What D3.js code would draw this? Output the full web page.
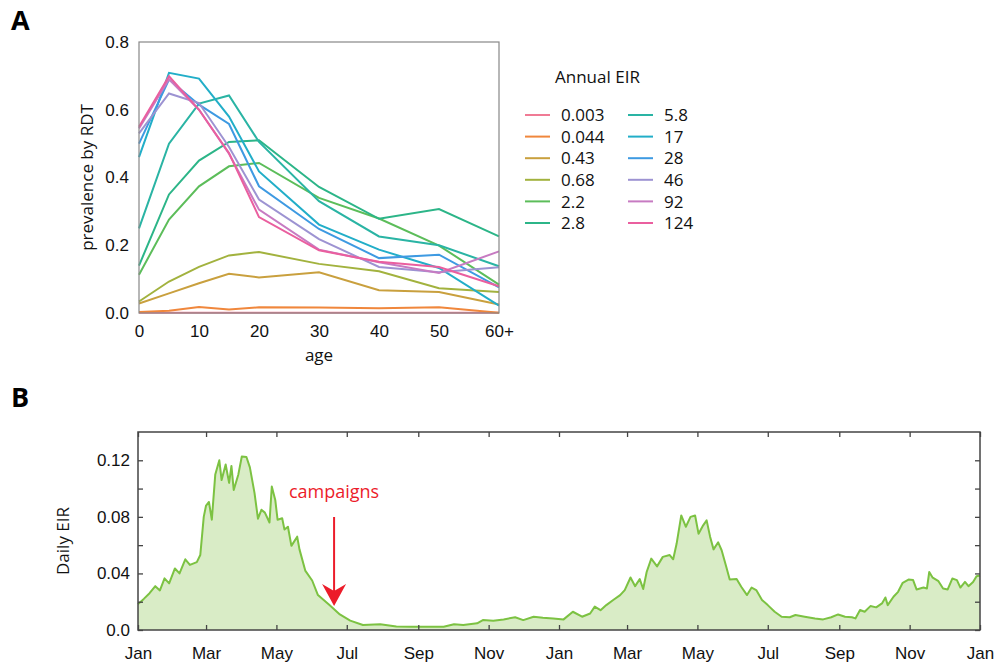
<!DOCTYPE html>
<html>
<head>
<meta charset="utf-8">
<script src="https://cdn.jsdelivr.net/npm/d3@7"></script>
<style>
  body { margin: 0; background: #fff; }
  svg { display: block; font-family: "Open Sans", "Noto Sans", sans-serif; }
  .tick text { font-size: 17px; fill: #111; }
</style>
</head>
<body>
<svg id="chart" width="997" height="668"></svg>
<script>
// Panel A: prevalence by age for each annual EIR
const ages = [0, 5, 10, 15, 20, 30, 40, 50, 60];
const ageTicks = [0, 10, 20, 30, 40, 50, 60];
const prevTicks = [0, 0.2, 0.4, 0.6, 0.8];

const eirLabels = ["0.003", "0.044", "0.43", "0.68", "2.2", "2.8", "5.8", "17", "28", "46", "92", "124"];
const eirColors = ["#f07b95", "#f0873c", "#c9a03e", "#a2b23e", "#5cbd5a", "#2cb588", "#2ab4a4", "#22aec8", "#3e9ae2", "#9d93d2", "#c77bc2", "#ea5f9f"];

const prev0003 = [0.001, 0.001, 0.001, 0.001, 0.001, 0.001, 0.001, 0.001, 0.001];
const prev0044 = [0.003, 0.007, 0.018, 0.010, 0.017, 0.016, 0.014, 0.017, 0.001];
const prev043 = [0.028, 0.058, 0.088, 0.116, 0.105, 0.120, 0.067, 0.062, 0.025];
const prev068 = [0.034, 0.093, 0.136, 0.170, 0.180, 0.145, 0.123, 0.073, 0.062];
const prev22 = [0.113, 0.276, 0.374, 0.433, 0.443, 0.340, 0.279, 0.199, 0.084];
const prev28 = [0.140, 0.350, 0.450, 0.505, 0.510, 0.372, 0.278, 0.307, 0.226];
const prev58 = [0.250, 0.500, 0.618, 0.642, 0.505, 0.330, 0.226, 0.200, 0.138];
const prev17 = [0.460, 0.709, 0.692, 0.580, 0.418, 0.261, 0.187, 0.133, 0.022];
const prev28b = [0.500, 0.689, 0.615, 0.558, 0.374, 0.248, 0.162, 0.172, 0.076];
const prev46 = [0.530, 0.648, 0.620, 0.490, 0.335, 0.218, 0.136, 0.120, 0.135];
const prev92 = [0.545, 0.690, 0.600, 0.470, 0.305, 0.187, 0.150, 0.118, 0.182];
const prev124 = [0.550, 0.699, 0.600, 0.472, 0.283, 0.185, 0.151, 0.136, 0.079];
const prevSeries = [prev0003, prev0044, prev043, prev068, prev22, prev28, prev58, prev17, prev28b, prev46, prev92, prev124];

// Panel B: daily EIR over two years (day index from 1 Jan)
const eirDays = [0, 5, 10, 15, 19, 23, 27, 32, 36, 41, 45, 51, 54, 57, 59, 61.5, 64, 67, 70.5, 72.5,
  76, 79, 81, 83, 87, 90, 94, 97, 101, 104, 107, 110, 114, 116, 119, 121, 125, 127, 130, 133,
  138, 140, 145, 151, 156, 166, 175, 184, 195, 210, 224, 236, 250, 265, 274, 282, 294, 299, 308, 317,
  327, 334, 343, 351, 360, 369, 377, 385, 392, 396, 401, 406, 412, 418, 422, 427, 431, 435, 438, 441,
  445, 450, 455, 461, 464, 467, 471, 475, 479, 483, 486, 490, 493, 496, 499, 503, 506, 510, 513, 519,
  523, 528, 532, 536, 541, 546, 552, 558, 565, 570, 578, 587, 594, 601, 607, 613, 619, 622, 626, 630,
  635, 640, 645, 648, 650, 655, 659, 663, 668, 672, 675, 681, 684, 686, 689, 694, 698, 702, 706, 710,
  713, 717, 720, 724, 727, 730];
const eirValues = [0.0183, 0.022, 0.026, 0.031, 0.028, 0.0365, 0.033, 0.0435, 0.040, 0.050, 0.046, 0.048, 0.053, 0.080, 0.088, 0.0905, 0.078, 0.110, 0.120, 0.106,
  0.117, 0.104, 0.116, 0.099, 0.110, 0.1227, 0.1223, 0.115, 0.097, 0.0787, 0.085, 0.083, 0.076, 0.1015, 0.092, 0.078, 0.079, 0.071, 0.073, 0.0595,
  0.066, 0.057, 0.042, 0.035, 0.0247, 0.0176, 0.011, 0.0066, 0.0035, 0.004, 0.0025, 0.0023, 0.0023, 0.0023, 0.004, 0.0035, 0.0047, 0.007, 0.0066, 0.0075,
  0.009, 0.007, 0.0094, 0.0087, 0.0082, 0.0075, 0.0129, 0.0094, 0.0117, 0.0165, 0.014, 0.0176, 0.0212, 0.0247, 0.0282, 0.0371, 0.031, 0.036, 0.029, 0.041,
  0.0505, 0.045, 0.0517, 0.053, 0.050, 0.0611, 0.081, 0.073, 0.080, 0.081, 0.068, 0.074, 0.0775, 0.066, 0.057, 0.062, 0.0564, 0.0447, 0.0357, 0.036,
  0.0306, 0.0247, 0.030, 0.0282, 0.0212, 0.0176, 0.0129, 0.0094, 0.009, 0.0106, 0.0094, 0.0082, 0.0075, 0.009, 0.011, 0.0094, 0.009, 0.0082, 0.0141, 0.0129,
  0.0169, 0.016, 0.0188, 0.023, 0.0176, 0.0235, 0.027, 0.0334, 0.0357, 0.0353, 0.0287, 0.030, 0.0294, 0.041, 0.037, 0.0345, 0.0294, 0.0287, 0.0364, 0.0353,
  0.030, 0.034, 0.031, 0.034, 0.038, 0.0385];
const eirTicks = [0, 0.04, 0.08, 0.12];
const eirMinorTicks = [0, 0.02, 0.04, 0.06, 0.08, 0.10, 0.12];
const campaignDay = 170;
const campaignValue = 0.017;

const svg = d3.select("#chart");
const startDate = new Date(2001, 0, 1);
const endDate = new Date(2003, 0, 1);

// ---------- Panel A ----------
const xA = d3.scaleLinear().domain([0, 60]).range([139, 499]);
const yA = d3.scaleLinear().domain([0, 0.8]).range([313, 42]);

svg.append("text").attr("x", 11).attr("y", 30)
  .attr("font-size", 27).attr("font-weight", "bold").text("A");

const gA = svg.append("g");

gA.append("g")
  .attr("transform", "translate(" + xA.range()[0] + ",0)")
  .call(d3.axisLeft(yA).tickValues(prevTicks).tickSize(0).tickPadding(10).tickFormat(d3.format(".1f")))
  .call(g => g.select(".domain").remove());

gA.append("g")
  .attr("transform", "translate(0," + yA.range()[0] + ")")
  .call(d3.axisBottom(xA).tickValues(ageTicks).tickSize(0).tickPadding(12)
    .tickFormat(d => d === 60 ? "60+" : d))
  .call(g => g.select(".domain").remove());

const lineA = d3.line().x((d, i) => xA(ages[i])).y(d => yA(d));
gA.selectAll("path.series")
  .data(prevSeries)
  .join("path")
  .attr("class", "series")
  .attr("d", lineA)
  .attr("fill", "none")
  .attr("stroke", (d, i) => eirColors[i])
  .attr("stroke-width", 2);

gA.append("rect")
  .attr("x", xA.range()[0]).attr("y", yA.range()[1])
  .attr("width", xA.range()[1] - xA.range()[0])
  .attr("height", yA.range()[0] - yA.range()[1])
  .attr("fill", "none").attr("stroke", "#888").attr("stroke-width", 1.2);

gA.append("text")
  .attr("transform", "translate(93," + (yA.range()[0] + yA.range()[1]) / 2 + ") rotate(-90)")
  .attr("text-anchor", "middle").attr("font-size", 17).attr("fill", "#111").text("prevalence by RDT");

gA.append("text")
  .attr("x", (xA.range()[0] + xA.range()[1]) / 2).attr("y", 361)
  .attr("text-anchor", "middle").attr("font-size", 17).attr("fill", "#111").text("age");

// Legend
const legend = svg.append("g");
legend.append("text").attr("x", 555).attr("y", 83)
  .attr("font-size", 17).attr("font-weight", 500).attr("fill", "#111").text("Annual EIR");

const items = legend.selectAll("g.item")
  .data(eirLabels)
  .join("g")
  .attr("class", "item")
  .attr("transform", (d, i) => "translate(" + (i < 6 ? 525 : 628) + "," + (115 + (i % 6) * 21.6) + ")");
items.append("line")
  .attr("x1", 0).attr("x2", 25)
  .attr("stroke", (d, i) => eirColors[i]).attr("stroke-width", 2);
items.append("text")
  .attr("x", 36).attr("dy", "0.36em")
  .attr("font-size", 17).attr("fill", "#111").text(d => d);

// ---------- Panel B ----------
const xB = d3.scaleTime().domain([startDate, endDate]).range([138, 980]);
const yB = d3.scaleLinear().domain([0, 0.14]).range([630, 432]);

svg.append("text").attr("x", 11).attr("y", 407)
  .attr("font-size", 27).attr("font-weight", "bold").text("B");

const gB = svg.append("g");
const eirData = eirDays.map((d, i) => ({ date: d3.timeHour.offset(startDate, d * 24), value: eirValues[i] }));

gB.append("path")
  .datum(eirData)
  .attr("d", d3.area().x(d => xB(d.date)).y0(yB(0)).y1(d => yB(d.value)))
  .attr("fill", "#d9ecc6");

gB.append("path")
  .datum(eirData)
  .attr("d", d3.line().x(d => xB(d.date)).y(d => yB(d.value)))
  .attr("fill", "none").attr("stroke", "#7cc242").attr("stroke-width", 2)
  .attr("stroke-linejoin", "round");

const monthTicks = d3.timeMonth.every(2).range(startDate, d3.timeDay.offset(endDate, 1));

gB.append("g")
  .attr("transform", "translate(0," + yB(0) + ")")
  .call(d3.axisBottom(xB).tickValues(monthTicks).tickSize(-5).tickPadding(17).tickFormat(d3.timeFormat("%b")))
  .call(g => g.select(".domain").remove());
gB.append("g")
  .attr("transform", "translate(0," + yB.range()[1] + ")")
  .call(d3.axisTop(xB).tickValues(monthTicks).tickSize(-5).tickFormat(""))
  .call(g => g.select(".domain").remove());

gB.append("g")
  .attr("transform", "translate(" + xB.range()[0] + ",0)")
  .call(d3.axisLeft(yB).tickValues(eirMinorTicks).tickSize(-5).tickPadding(8)
    .tickFormat(d => eirTicks.some(t => Math.abs(t - d) < 1e-9) ? (d === 0 ? "0.0" : d3.format(".2f")(d)) : ""))
  .call(g => g.select(".domain").remove());
gB.append("g")
  .attr("transform", "translate(" + xB.range()[1] + ",0)")
  .call(d3.axisRight(yB).tickValues(eirMinorTicks).tickSize(-5).tickFormat(""))
  .call(g => g.select(".domain").remove());

gB.selectAll(".tick line").attr("stroke", "#444").attr("stroke-width", 1.3);

gB.append("rect")
  .attr("x", xB.range()[0]).attr("y", yB.range()[1])
  .attr("width", xB.range()[1] - xB.range()[0])
  .attr("height", yB.range()[0] - yB.range()[1])
  .attr("fill", "none").attr("stroke", "#444").attr("stroke-width", 1.5);

gB.append("text")
  .attr("transform", "translate(69,541) rotate(-90)")
  .attr("text-anchor", "middle").attr("font-size", 17).attr("fill", "#111").text("Daily EIR");

// campaigns annotation
const cx = xB(d3.timeDay.offset(startDate, campaignDay));
const cy = yB(campaignValue);
gB.append("text")
  .attr("x", cx).attr("y", 498)
  .attr("text-anchor", "middle").attr("font-size", 18).attr("fill", "#ec1c2a")
  .text("campaigns");
gB.append("line")
  .attr("x1", cx).attr("x2", cx).attr("y1", 517).attr("y2", cy - 12)
  .attr("stroke", "#ec1c2a").attr("stroke-width", 2);
gB.append("path")
  .attr("d", "M" + cx + "," + cy + " L" + (cx - 12) + "," + (cy - 22) + " L" + cx + "," + (cy - 15) + " L" + (cx + 12) + "," + (cy - 22) + " Z")
  .attr("fill", "#ec1c2a");
</script>
</body>
</html>
